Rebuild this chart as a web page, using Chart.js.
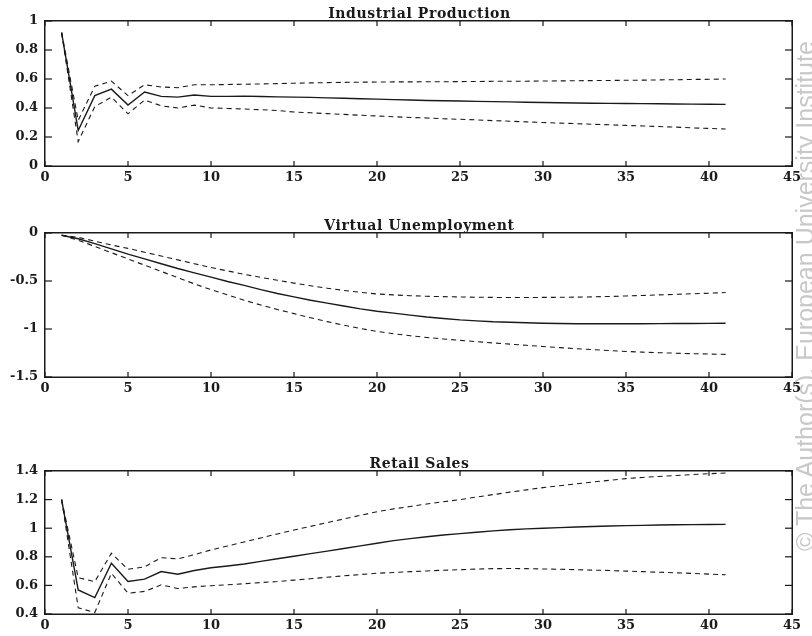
<!DOCTYPE html>
<html><head><meta charset="utf-8">
<script src="https://cdn.jsdelivr.net/npm/chart.js@4.4.1/dist/chart.umd.min.js"></script>
<style>
html,body{margin:0;padding:0;background:#fff;}
body{width:812px;height:636px;position:relative;overflow:hidden;}
canvas{position:absolute;left:0;}
#wm{position:absolute;left:793px;top:551px;transform-origin:0 0;transform:rotate(-90deg);font:25px "Liberation Sans",Arial,sans-serif;color:#c8c8c8;white-space:nowrap;line-height:24px;}
</style></head><body>
<canvas id="c1" width="812" height="186" style="top:0px"></canvas>
<canvas id="c2" width="812" height="186" style="top:212px"></canvas>
<canvas id="c3" width="812" height="186" style="top:450px"></canvas>
<div id="wm">© The Author(s). European University Institute</div>
<script>
// ---------- data ----------
const steps = [1,2,3,4,5,6,7,8,9,10,11,12,13,14,15,16,17,18,19,20,21,22,23,24,25,26,27,28,29,30,31,32,33,34,35,36,37,38,39,40,41];
const xTicks = [0,5,10,15,20,25,30,35,40,45];

const titles = ["Industrial Production", "Virtual Unemployment", "Retail Sales"];

const ipTicks = [0,0.2,0.4,0.6,0.8,1];
const ipMid = [0.92,0.245,0.485,0.53,0.42,0.51,0.48,0.475,0.49,0.48,0.48,0.482,0.479,0.477,0.475,0.473,0.47,0.467,0.464,0.461,0.458,0.455,0.452,0.45,0.448,0.446,0.444,0.442,0.44,0.438,0.436,0.434,0.433,0.432,0.431,0.43,0.429,0.428,0.427,0.426,0.425];
const ipUpper = [0.92,0.315,0.55,0.585,0.485,0.56,0.545,0.54,0.56,0.56,0.562,0.564,0.566,0.568,0.571,0.573,0.575,0.577,0.578,0.579,0.58,0.58,0.581,0.581,0.582,0.583,0.584,0.585,0.585,0.586,0.587,0.588,0.589,0.59,0.591,0.592,0.594,0.595,0.597,0.598,0.6];
const ipLower = [0.92,0.168,0.41,0.475,0.36,0.455,0.415,0.40,0.42,0.40,0.397,0.393,0.388,0.383,0.372,0.367,0.361,0.356,0.35,0.345,0.34,0.335,0.331,0.326,0.322,0.318,0.313,0.309,0.304,0.30,0.296,0.292,0.288,0.284,0.28,0.276,0.272,0.268,0.263,0.259,0.255];

const vuTicks = [-1.5,-1,-0.5,0];
const vuMid = [-0.024,-0.06,-0.11,-0.165,-0.22,-0.27,-0.32,-0.37,-0.415,-0.46,-0.505,-0.545,-0.59,-0.63,-0.665,-0.70,-0.73,-0.76,-0.79,-0.815,-0.835,-0.855,-0.875,-0.89,-0.905,-0.915,-0.925,-0.93,-0.935,-0.94,-0.943,-0.945,-0.946,-0.946,-0.946,-0.945,-0.944,-0.943,-0.942,-0.941,-0.94];
const vuUpper = [-0.024,-0.045,-0.085,-0.125,-0.16,-0.20,-0.24,-0.28,-0.32,-0.36,-0.395,-0.43,-0.462,-0.492,-0.522,-0.55,-0.575,-0.598,-0.618,-0.635,-0.645,-0.653,-0.659,-0.663,-0.666,-0.669,-0.671,-0.672,-0.672,-0.671,-0.67,-0.668,-0.665,-0.661,-0.656,-0.651,-0.645,-0.639,-0.633,-0.627,-0.62];
const vuLower = [-0.024,-0.075,-0.14,-0.205,-0.27,-0.335,-0.40,-0.465,-0.53,-0.59,-0.645,-0.70,-0.75,-0.797,-0.84,-0.883,-0.923,-0.96,-0.995,-1.025,-1.05,-1.07,-1.088,-1.104,-1.118,-1.132,-1.145,-1.158,-1.17,-1.182,-1.194,-1.205,-1.215,-1.225,-1.234,-1.241,-1.247,-1.252,-1.257,-1.261,-1.264];

const rsTicks = [0.4,0.6,0.8,1,1.2,1.4];
const rsMid = [1.2,0.568,0.515,0.755,0.627,0.644,0.697,0.678,0.704,0.723,0.736,0.75,0.768,0.786,0.804,0.822,0.84,0.858,0.876,0.895,0.913,0.927,0.94,0.952,0.962,0.972,0.981,0.989,0.995,1.0,1.004,1.008,1.012,1.015,1.018,1.02,1.022,1.024,1.025,1.026,1.027];
const rsUpper = [1.2,0.654,0.626,0.825,0.713,0.73,0.794,0.785,0.815,0.848,0.876,0.904,0.932,0.96,0.987,1.013,1.039,1.065,1.09,1.115,1.135,1.152,1.169,1.185,1.2,1.218,1.235,1.252,1.268,1.284,1.297,1.31,1.323,1.335,1.347,1.355,1.362,1.369,1.375,1.381,1.386];
const rsLower = [1.2,0.444,0.41,0.685,0.545,0.558,0.604,0.578,0.59,0.598,0.604,0.612,0.62,0.627,0.637,0.647,0.657,0.667,0.676,0.685,0.69,0.696,0.701,0.706,0.71,0.714,0.717,0.718,0.717,0.715,0.713,0.71,0.707,0.704,0.70,0.696,0.692,0.688,0.684,0.679,0.674];

// ---------- drawing ----------
const INK = '#1a1a1a';
const tickFont = {family: "'DejaVu Serif', serif", size: 13, weight: 'bold'};

function makeFramePlugin(title, yTicks) {
  return {
    id: 'frame',
    afterDraw(chart) {
      const ctx = chart.ctx;
      const a = chart.chartArea;
      const x = chart.scales.x, y = chart.scales.y;
      ctx.save();
      ctx.setLineDash([]);
      ctx.globalAlpha = 1;
      ctx.globalCompositeOperation = 'source-over';
      ctx.fillStyle = INK;
      const L = Math.round(a.left), R = Math.round(a.right), T = Math.round(a.top), B = Math.round(a.bottom);
      // frame
      ctx.fillRect(L - 1, T - 1, R - L + 2, 1.5);
      ctx.fillRect(L - 1, B - 0.5, R - L + 2, 1.5);
      ctx.fillRect(L - 1, T - 1, 1.5, B - T + 2);
      ctx.fillRect(R - 0.5, T - 1, 1.5, B - T + 2);
      // inward ticks
      xTicks.forEach(v => {
        const px = x.getPixelForValue(v);
        ctx.fillRect(px - 0.6, B - 5, 1.2, 5);
        ctx.fillRect(px - 0.6, T, 1.2, 5);
      });
      yTicks.forEach(v => {
        const py = y.getPixelForValue(v);
        ctx.fillRect(L, py - 0.6, 7, 1.2);
        ctx.fillRect(R - 7, py - 0.6, 7, 1.2);
      });
      // title
      ctx.font = "bold 14px 'DejaVu Serif', serif";
      if ('letterSpacing' in ctx) ctx.letterSpacing = '0.6px';
      ctx.textAlign = 'center';
      ctx.textBaseline = 'alphabetic';
      ctx.fillText(title, (L + R) / 2 + 1, T - 3);
      ctx.restore();
    }
  };
}

function makeChart(id, title, yTicks, mid, upper, lower, xAxisH) {
  const pts = arr => steps.map((s, i) => ({x: s, y: arr[i]}));
  const dashed = arr => ({data: pts(arr), borderColor: INK, borderWidth: 1.1, borderDash: [5, 4], pointRadius: 0, tension: 0, fill: false});
  new Chart(document.getElementById(id), {
    type: 'line',
    data: {datasets: [
      dashed(upper),
      dashed(lower),
      {data: pts(mid), borderColor: INK, borderWidth: 1.4, pointRadius: 0, tension: 0, fill: false}
    ]},
    options: {
      responsive: false, animation: false, devicePixelRatio: 1,
      layout: {padding: {left: 0, right: 20, top: 21, bottom: 0}},
      plugins: {legend: {display: false}, tooltip: {enabled: false}, title: {display: false}},
      scales: {
        x: {type: 'linear', min: 0, max: 45,
            grid: {display: false, drawTicks: false}, border: {display: false},
            afterBuildTicks: s => { s.ticks = xTicks.map(v => ({value: v})); },
            afterFit: s => { s.height = xAxisH; },
            ticks: {color: INK, font: tickFont, padding: 4, maxRotation: 0, autoSkip: false,
                    callback: v => String(v)}},
        y: {type: 'linear', min: yTicks[0], max: yTicks[yTicks.length - 1],
            grid: {display: false, drawTicks: false}, border: {display: false},
            afterBuildTicks: s => { s.ticks = yTicks.map(v => ({value: v})); },
            afterFit: s => { s.width = 45; },
            ticks: {color: INK, font: tickFont, padding: 7, autoSkip: false,
                    callback: v => String(Math.round(v * 10) / 10)}}
      }
    },
    plugins: [makeFramePlugin(title, yTicks)]
  });
}

makeChart('c1', titles[0], ipTicks, ipMid, ipUpper, ipLower, 20);
makeChart('c2', titles[1], vuTicks, vuMid, vuUpper, vuLower, 21);
makeChart('c3', titles[2], rsTicks, rsMid, rsUpper, rsLower, 22);
</script>
</body></html>
